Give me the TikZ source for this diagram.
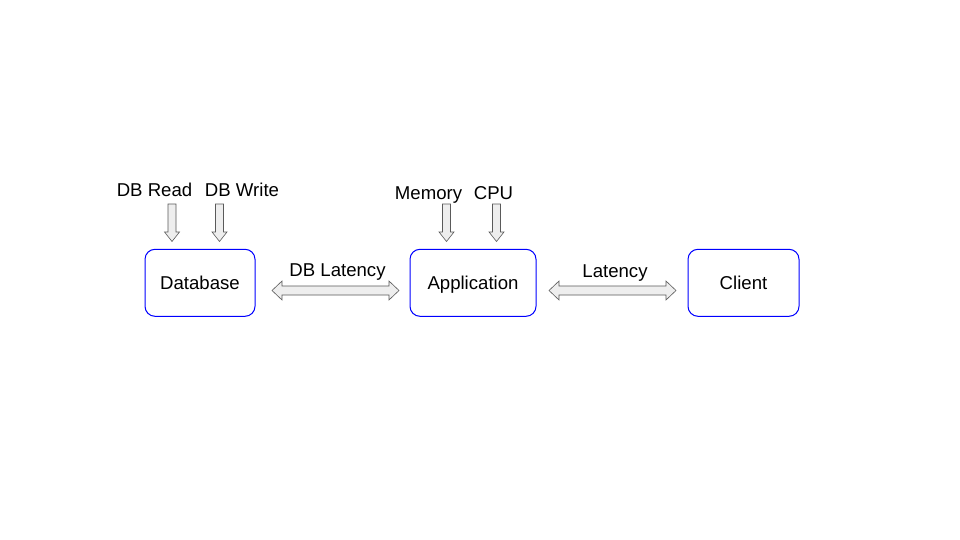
\documentclass[tikz,border=0pt]{standalone}
\usepackage{fontspec}
\setmainfont{Liberation Sans}
\begin{document}
\begin{tikzpicture}[x=1pt,y=-1pt,
  box/.style={draw={rgb,255:red,0;green,0;blue,255}, line width=1pt, rounded corners=10pt, minimum width=#1, minimum height=67pt, inner sep=0pt, text height=13.3pt, text depth=0pt, font=\fontsize{18.6}{22}\selectfont},
  lbl/.style={font=\fontsize{18.6}{22}\selectfont, inner sep=0pt, anchor=base},
  blockarrow/.style={draw={rgb,255:red,90;green,90;blue,90}, fill={rgb,255:red,238;green,238;blue,238}, line width=0.6pt, line join=miter},
  downarr/.pic={\path[blockarrow] (-4,0) -- (4,0) -- (4,28) -- (7.5,28) -- (0,37.5) -- (-7.5,28) -- (-4,28) -- cycle;},
  dblarr/.pic={\path[blockarrow] (-63.5,0) -- (-53.5,-9.5) -- (-53.5,-4.5) -- (53.5,-4.5) -- (53.5,-9.5) -- (63.5,0) -- (53.5,9.5) -- (53.5,4.5) -- (-53.5,4.5) -- (-53.5,9.5) -- cycle;}
]
\useasboundingbox (0,0) rectangle (960,540);
\fill[white] (0,0) rectangle (960,540);

\node[box=110pt] (db) at (200,282.8) {Database};
\node[box=126pt] (app) at (473,282.8) {Application};
\node[box=111pt] (cl) at (743.5,282.8) {Client};

\pic at (172,204) {downarr};
\pic at (219.5,204) {downarr};
\pic at (446.5,204) {downarr};
\pic at (496.5,204) {downarr};

\pic at (335.5,290.5) {dblarr};
\pic at (612.5,290.5) {dblarr};

\node[lbl] (rd) at (154.5,196.7) {DB Read};
\node[lbl] (wr) at (242,196.7) {DB Write};
\node[lbl] (mem) at (428.5,200) {Memory};
\node[lbl] (cpu) at (493.5,200) {CPU};
\node[lbl] (dbl) at (337.5,276.3) {DB Latency};
\node[lbl] (lat) at (615,277.3) {Latency};
\end{tikzpicture}
\end{document}
